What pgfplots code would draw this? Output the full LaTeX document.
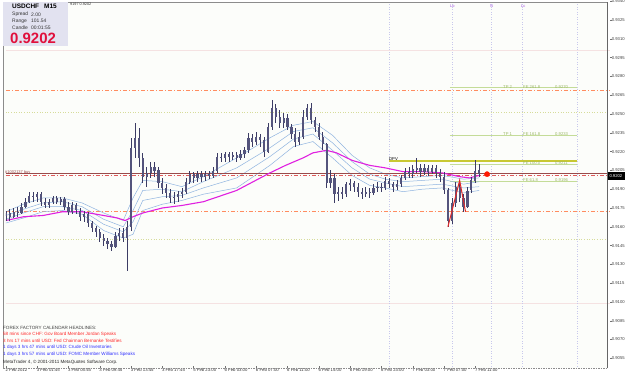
\documentclass[border=0pt]{standalone}
\usepackage{fontspec}
\setmainfont{Liberation Sans}
\usepackage{pgfplots}
\usepackage{pgfplotstable}
\pgfplotsset{compat=1.18}
\definecolor{wick}{HTML}{3C3C64}
\definecolor{body}{HTML}{54547C}
\definecolor{mablue}{HTML}{8FB4E0}
\definecolor{mamag}{HTML}{E020E0}
\definecolor{orng}{HTML}{FF8C60}
\definecolor{redl}{HTML}{E05A5A}
\definecolor{orderl}{HTML}{9A4A4A}
\definecolor{yeld}{HTML}{D6DC9A}
\definecolor{pinkf}{HTML}{F5E2E2}
\definecolor{fibg}{HTML}{C4DC98}
\definecolor{fibt}{HTML}{9CB868}
\definecolor{dpv}{HTML}{C8C832}
\definecolor{sess}{HTML}{C8C8EC}
\definecolor{sesst}{HTML}{A050E0}
\definecolor{zz}{HTML}{E02828}
\definecolor{infobg}{HTML}{E2E2F0}
\definecolor{crim}{HTML}{E0103C}
\definecolor{hred}{HTML}{FF2A2A}
\definecolor{hblue}{HTML}{3030FF}
\definecolor{bgc}{HTML}{FCFDFA}

\pgfplotstableread{
b o h l c
0 9169 9173 9165 9171
2 9171 9174 9165 9168
4 9168 9175 9167 9172
6 9172 9176 9168 9171
8 9171 9179 9170 9176
10 9176 9183 9175 9180
12 9180 9188 9179 9185
14 9185 9188 9180 9184
16 9184 9188 9180 9186
18 9186 9188 9177 9180
20 9180 9183 9175 9177
22 9177 9182 9175 9180
24 9180 9185 9178 9183
26 9183 9185 9178 9180
28 9180 9184 9177 9182
30 9182 9184 9173 9176
32 9176 9180 9169 9172
34 9172 9180 9170 9177
36 9177 9179 9170 9173
38 9173 9175 9165 9168
40 9168 9173 9164 9170
42 9170 9172 9160 9163
44 9163 9165 9156 9159
46 9159 9161 9152 9156
48 9156 9158 9148 9151
50 9151 9154 9145 9149
52 9149 9151 9142 9146
54 9146 9149 9141 9144
56 9144 9156 9143 9153
58 9153 9159 9149 9155
60 9155 9159 9148 9151
62 9151 9165 9125 9160
64 9160 9231 9157 9223
66 9223 9243 9215 9231
68 9231 9239 9208 9215
70 9215 9219 9195 9200
72 9200 9208 9192 9203
74 9203 9212 9199 9208
76 9208 9212 9200 9205
78 9205 9208 9191 9195
80 9195 9199 9186 9191
82 9191 9194 9183 9187
84 9187 9190 9179 9183
86 9183 9188 9178 9184
88 9184 9189 9180 9186
90 9186 9191 9183 9188
92 9188 9199 9186 9196
94 9196 9205 9194 9202
96 9202 9204 9195 9199
98 9199 9205 9196 9202
100 9202 9205 9196 9200
102 9200 9205 9197 9202
104 9202 9205 9198 9201
106 9201 9208 9199 9205
108 9205 9219 9203 9216
110 9216 9219 9212 9215
112 9215 9220 9212 9218
114 9218 9220 9212 9216
116 9216 9220 9213 9217
118 9217 9220 9212 9215
120 9215 9221 9213 9218
122 9218 9224 9215 9221
124 9221 9235 9219 9231
126 9231 9234 9224 9228
128 9228 9236 9225 9232
130 9232 9234 9224 9229
132 9229 9232 9216 9220
134 9220 9243 9219 9240
136 9240 9261 9237 9255
138 9255 9258 9243 9248
140 9248 9253 9239 9243
142 9243 9251 9239 9247
144 9247 9250 9237 9240
146 9240 9242 9230 9234
148 9234 9239 9224 9228
150 9228 9236 9225 9232
152 9232 9253 9230 9248
154 9248 9258 9245 9255
156 9255 9259 9242 9245
158 9245 9248 9236 9240
160 9240 9243 9229 9232
162 9232 9236 9221 9226
164 9226 9227 9191 9195
166 9195 9205 9191 9199
168 9199 9202 9179 9186
170 9186 9192 9181 9188
172 9188 9192 9182 9186
174 9186 9196 9184 9194
176 9194 9198 9189 9195
178 9195 9197 9188 9192
180 9192 9195 9184 9188
182 9188 9191 9182 9186
184 9186 9192 9184 9188
186 9188 9191 9183 9187
188 9187 9194 9185 9191
190 9191 9196 9188 9192
192 9192 9195 9188 9191
194 9191 9200 9189 9197
196 9197 9199 9191 9194
198 9194 9196 9188 9192
200 9192 9197 9189 9194
202 9194 9201 9192 9199
204 9199 9207 9197 9204
206 9204 9208 9199 9202
208 9202 9209 9199 9206
210 9206 9215 9203 9207
212 9207 9210 9200 9204
214 9204 9210 9201 9207
216 9207 9209 9201 9204
218 9204 9209 9202 9207
220 9207 9209 9199 9203
222 9203 9206 9196 9200
224 9200 9204 9186 9189
226 9189 9191 9160 9165
228 9165 9183 9162 9179
230 9179 9196 9176 9192
232 9192 9197 9180 9183
234 9183 9186 9172 9176
236 9176 9192 9175 9189
238 9189 9200 9187 9197
240 9197 9213 9195 9205
242 9205 9210 9200 9202
}\bars

\begin{document}
\begin{tikzpicture}[x=1bp,y=1bp]
\useasboundingbox (0,0) rectangle (625,375);
\fill[white] (0,0) rectangle (625,375);
\fill[bgc] (3,7) rectangle (607,373);
\begin{axis}[
  at={(3,7)}, anchor=south west,
  width=604bp, height=365bp, scale only axis,
  xmin=0, xmax=308.8, ymin=9048.7, ymax=9340,
  axis line style={draw=none},
  xtick={0,16,32,48,64,80,96,112,128,144,160,176,192,208,224,240},
  xticklabels={2 Feb 2012,3 Feb 01:45,3 Feb 05:45,3 Feb 09:45,3 Feb 13:45,3 Feb 17:45,5 Feb 23:00,6 Feb 03:00,6 Feb 07:00,6 Feb 11:00,6 Feb 15:00,6 Feb 19:00,6 Feb 23:00,7 Feb 03:00,7 Feb 07:00,7 Feb 11:00},
  ytick={9055,9070,9085,9100,9115,9130,9145,9160,9175,9190,9205,9220,9235,9250,9265,9280,9295,9310,9325,9340},
  yticklabels={0.9055,0.9070,0.9085,0.9100,0.9115,0.9130,0.9145,0.9160,0.9175,0.9190,0.9205,0.9220,0.9235,0.9250,0.9265,0.9280,0.9295,0.9310,0.9325,0.9340},
  xtick pos=bottom, ytick pos=right,
  tick align=outside, major tick length=2bp,
  tick style={draw=black!55, line width=0.4bp},
  xticklabel style={anchor=north west, font=\fontsize{4.3}{5}\selectfont, text=black!80, inner sep=0.5bp, xshift=-1bp, yshift=1bp},
  yticklabel style={anchor=west, font=\fontsize{4.2}{5}\selectfont, text=black!75, inner sep=0.3bp, xshift=-0.5bp},
  clip=true,
]
% faint levels
\addplot[pinkf, line width=0.6bp] coordinates {(0,9301) (308.8,9301)};
\addplot[pinkf, line width=0.6bp] coordinates {(0,9099) (308.8,9099)};
\addplot[yeld, line width=0.6bp, dotted] coordinates {(0,9251) (308.8,9251)};
\addplot[yeld, line width=0.6bp, dotted] coordinates {(0,9150) (308.8,9150)};
% session / day lines
\addplot[sess, line width=0.5bp, dotted] coordinates {(196,9048.7) (196,9340)};
\addplot[sess, line width=0.5bp, dotted] coordinates {(228,9048.7) (228,9340)};
\addplot[sess, line width=0.5bp, dotted] coordinates {(248,9048.7) (248,9340)};
\addplot[sess, line width=0.5bp, dotted] coordinates {(264,9048.7) (264,9340)};
\addplot[sess, line width=0.5bp, dotted] coordinates {(292,9048.7) (292,9340)};
% pivots
\addplot[orng, line width=0.7bp, dash pattern=on 4bp off 2bp on 1bp off 2bp] coordinates {(0,9269) (308.8,9269)};
\addplot[orng, line width=0.7bp, dash pattern=on 4bp off 2bp on 1bp off 2bp] coordinates {(0,9172) (308.8,9172)};
% fib levels
\addplot[fibg, line width=0.8bp] coordinates {(227,9271) (292,9271)};
\addplot[fibg, line width=0.8bp] coordinates {(227,9233) (292,9233)};
\addplot[fibg, line width=0.8bp] coordinates {(227,9210) (292,9210)};
\addplot[fibg, line width=0.8bp] coordinates {(227,9196) (292,9196)};
\addplot[dpv, line width=1.1bp] coordinates {(196,9212.5) (292,9212.5)};
% MAs
\addplot[mablue, line width=0.5bp] coordinates {(0,9172) (9,9178) (19,9183) (29,9183) (39,9179) (50,9171) (60,9165) (65,9183) (70,9197) (80,9196) (90,9192) (101,9200) (118,9215) (135,9231) (147,9241) (157,9244) (167,9233) (177,9217) (186,9207) (194,9202) (203,9199) (213,9200) (223,9201) (234,9198) (242,9199)};
\addplot[mablue, line width=0.5bp] coordinates {(0,9169) (9,9174) (19,9179) (29,9180) (39,9176) (50,9166) (60,9160) (65,9173) (70,9189) (80,9190) (90,9188) (101,9196) (118,9207) (135,9223) (147,9236) (157,9239) (167,9227) (177,9212) (186,9202) (194,9198) (203,9196) (213,9197) (223,9198) (234,9194) (242,9196)};
\addplot[mablue, line width=0.5bp] coordinates {(0,9166) (9,9171) (19,9176) (29,9176) (39,9173) (50,9162) (60,9156) (65,9164) (70,9181) (80,9184) (90,9185) (101,9191) (118,9199) (135,9216) (147,9230) (157,9234) (167,9221) (177,9207) (186,9198) (194,9195) (203,9192) (213,9193) (223,9194) (234,9191) (242,9192)};
\addplot[mablue, line width=0.5bp] coordinates {(0,9163) (9,9167) (19,9172) (29,9173) (39,9170) (50,9157) (60,9151) (65,9154) (70,9173) (80,9178) (90,9181) (101,9186) (118,9191) (135,9209) (147,9224) (157,9228) (167,9215) (177,9201) (186,9193) (194,9191) (203,9188) (213,9190) (223,9191) (234,9187) (242,9189)};
% order and price lines
\addplot[orderl, line width=0.6bp] coordinates {(0,9203) (308.8,9203)};
\addplot[redl, line width=0.7bp, dash pattern=on 4bp off 2bp on 1bp off 2bp] coordinates {(0,9201) (308.8,9201)};
\addplot[mamag, line width=1.1bp] coordinates {(0,9165) (9,9168) (19,9169) (29,9172) (39,9172) (50,9169) (57,9167) (61,9165) (65,9168) (70,9171) (80,9175) (90,9177) (101,9180) (118,9189) (135,9203) (143,9209) (152,9215) (157,9219) (164,9221) (169,9219) (177,9213) (186,9209) (194,9207) (203,9204) (213,9204) (223,9203) (232,9200) (237,9199) (242,9201)};
% candles
\addplot[draw=none, no markers, forget plot,
  error bars/.cd, y dir=both, y explicit, error mark=none,
  error bar style={draw=wick, line width=0.6bp, solid}]
  table[x=b, y expr={(\thisrow{h}+\thisrow{l})/2}, y error expr={(\thisrow{h}-\thisrow{l})/2}] {\bars};
\addplot[draw=none, no markers, forget plot,
  error bars/.cd, y dir=both, y explicit, error mark=none,
  error bar style={draw=body, line width=2.2bp, solid}]
  table[x=b, y expr={(\thisrow{o}+\thisrow{c})/2}, y error expr={max(abs(\thisrow{o}-\thisrow{c})/2,0.25)}] {\bars};
% zigzag
\addplot[zz, line width=1bp] coordinates {(226,9160) (232,9197) (235,9172)};
% current price marker
\addplot[only marks, mark=*, mark size=2.6bp, mark options={fill=red!80!orange, draw=red!80!orange}] coordinates {(246,9202)};
\end{axis}
% frame
\draw[black!45, line width=0.6bp] (3,7) -- (3,373) -- (607,373);
\draw[black!60, line width=0.7bp] (607,7) -- (607,373);
\draw[black!45, line width=0.6bp, dash pattern=on 1.5bp off 1bp] (3,7) -- (607,7);
% current price tag
\fill[black] (607.5,195) rectangle (625,203);
\node[anchor=west, font=\fontsize{4.2}{5}\selectfont, text=white, inner sep=0.3bp] at (609,199) {0.9202};
% info box
\fill[infobg] (3,329) rectangle (68,373);
\node[anchor=west, font=\fontsize{6.5}{7}\selectfont\bfseries, inner sep=0] at (12,368.5) {USDCHF\hspace{5bp}M15};
\node[anchor=west, font=\fontsize{5}{6}\selectfont, inner sep=0, text=black!80] at (12,360.5) {Spread};
\node[anchor=west, font=\fontsize{5}{6}\selectfont, inner sep=0, text=black!80] at (31,360.5) {2.00};
\node[anchor=west, font=\fontsize{5}{6}\selectfont, inner sep=0, text=black!80] at (12,354) {Range};
\node[anchor=west, font=\fontsize{5}{6}\selectfont, inner sep=0, text=black!80] at (31,354) {101.54};
\node[anchor=west, font=\fontsize{5}{6}\selectfont, inner sep=0, text=black!80] at (12,347.5) {Candle};
\node[anchor=west, font=\fontsize{5}{6}\selectfont, inner sep=0, text=black!80] at (31,347.5) {00:01:55};
\node[anchor=west, font=\fontsize{15}{15}\selectfont\bfseries, inner sep=0, text=crim] at (10,336.5) {0.9202};
\node[anchor=west, font=\fontsize{3.8}{4}\selectfont, inner sep=0, text=black!80] at (70,371) {9197 0.9202};
% chart labels
\node[anchor=west, font=\fontsize{4}{4.5}\selectfont, inner sep=0, text=orderl] at (5,203) {\#1002137 buy};
\node[anchor=west, font=\fontsize{4.2}{4.5}\selectfont, inner sep=0] at (389,215.5) {DPV};
\node[anchor=west, font=\fontsize{4}{4.5}\selectfont, inner sep=0, text=sesst] at (450,369) {Lo};
\node[anchor=west, font=\fontsize{4}{4.5}\selectfont, inner sep=0, text=sesst] at (490,369) {N};
\node[anchor=west, font=\fontsize{4}{4.5}\selectfont, inner sep=0, text=sesst] at (521,369) {Lc};
\begin{scope}[every node/.style={anchor=west, font=\fontsize{4.2}{4.5}\selectfont, inner sep=0, text=fibt}]
\node at (503,287.5) {TP 2}; \node at (523,287.5) {FE 261.8}; \node at (555,287.5) {0.9270};
\node at (503,240.5) {TP 1}; \node at (523,240.5) {FE 161.8}; \node at (555,240.5) {0.9233};
\node at (523,212) {FE 100.0}; \node at (555,212) {0.9211};
\node at (523,194.5) {FE 61.8}; \node at (555,194.5) {0.9196};
\end{scope}
% headlines
\begin{scope}[every node/.style={anchor=west, font=\fontsize{4.6}{5}\selectfont, inner sep=0}]
\node[text=black!75] at (3,47) {FOREX FACTORY CALENDAR HEADLINES:};
\node[text=hred] at (3,40.5) {58 mins since CHF: Gov Board Member Jordan Speaks};
\node[text=hred] at (3,34) {3 hrs 17 mins until USD: Fed Chairman Bernanke Testifies};
\node[text=hblue] at (3,27.5) {1 days 3 hrs 47 mins until USD: Crude Oil Inventories};
\node[text=hblue] at (3,21) {1 days 3 hrs 57 mins until USD: FOMC Member Williams Speaks};
\node[text=black!85] at (3,12.5) {MetaTrader 4, © 2001-2011 MetaQuotes Software Corp.};
\end{scope}
\end{tikzpicture}
\end{document}
